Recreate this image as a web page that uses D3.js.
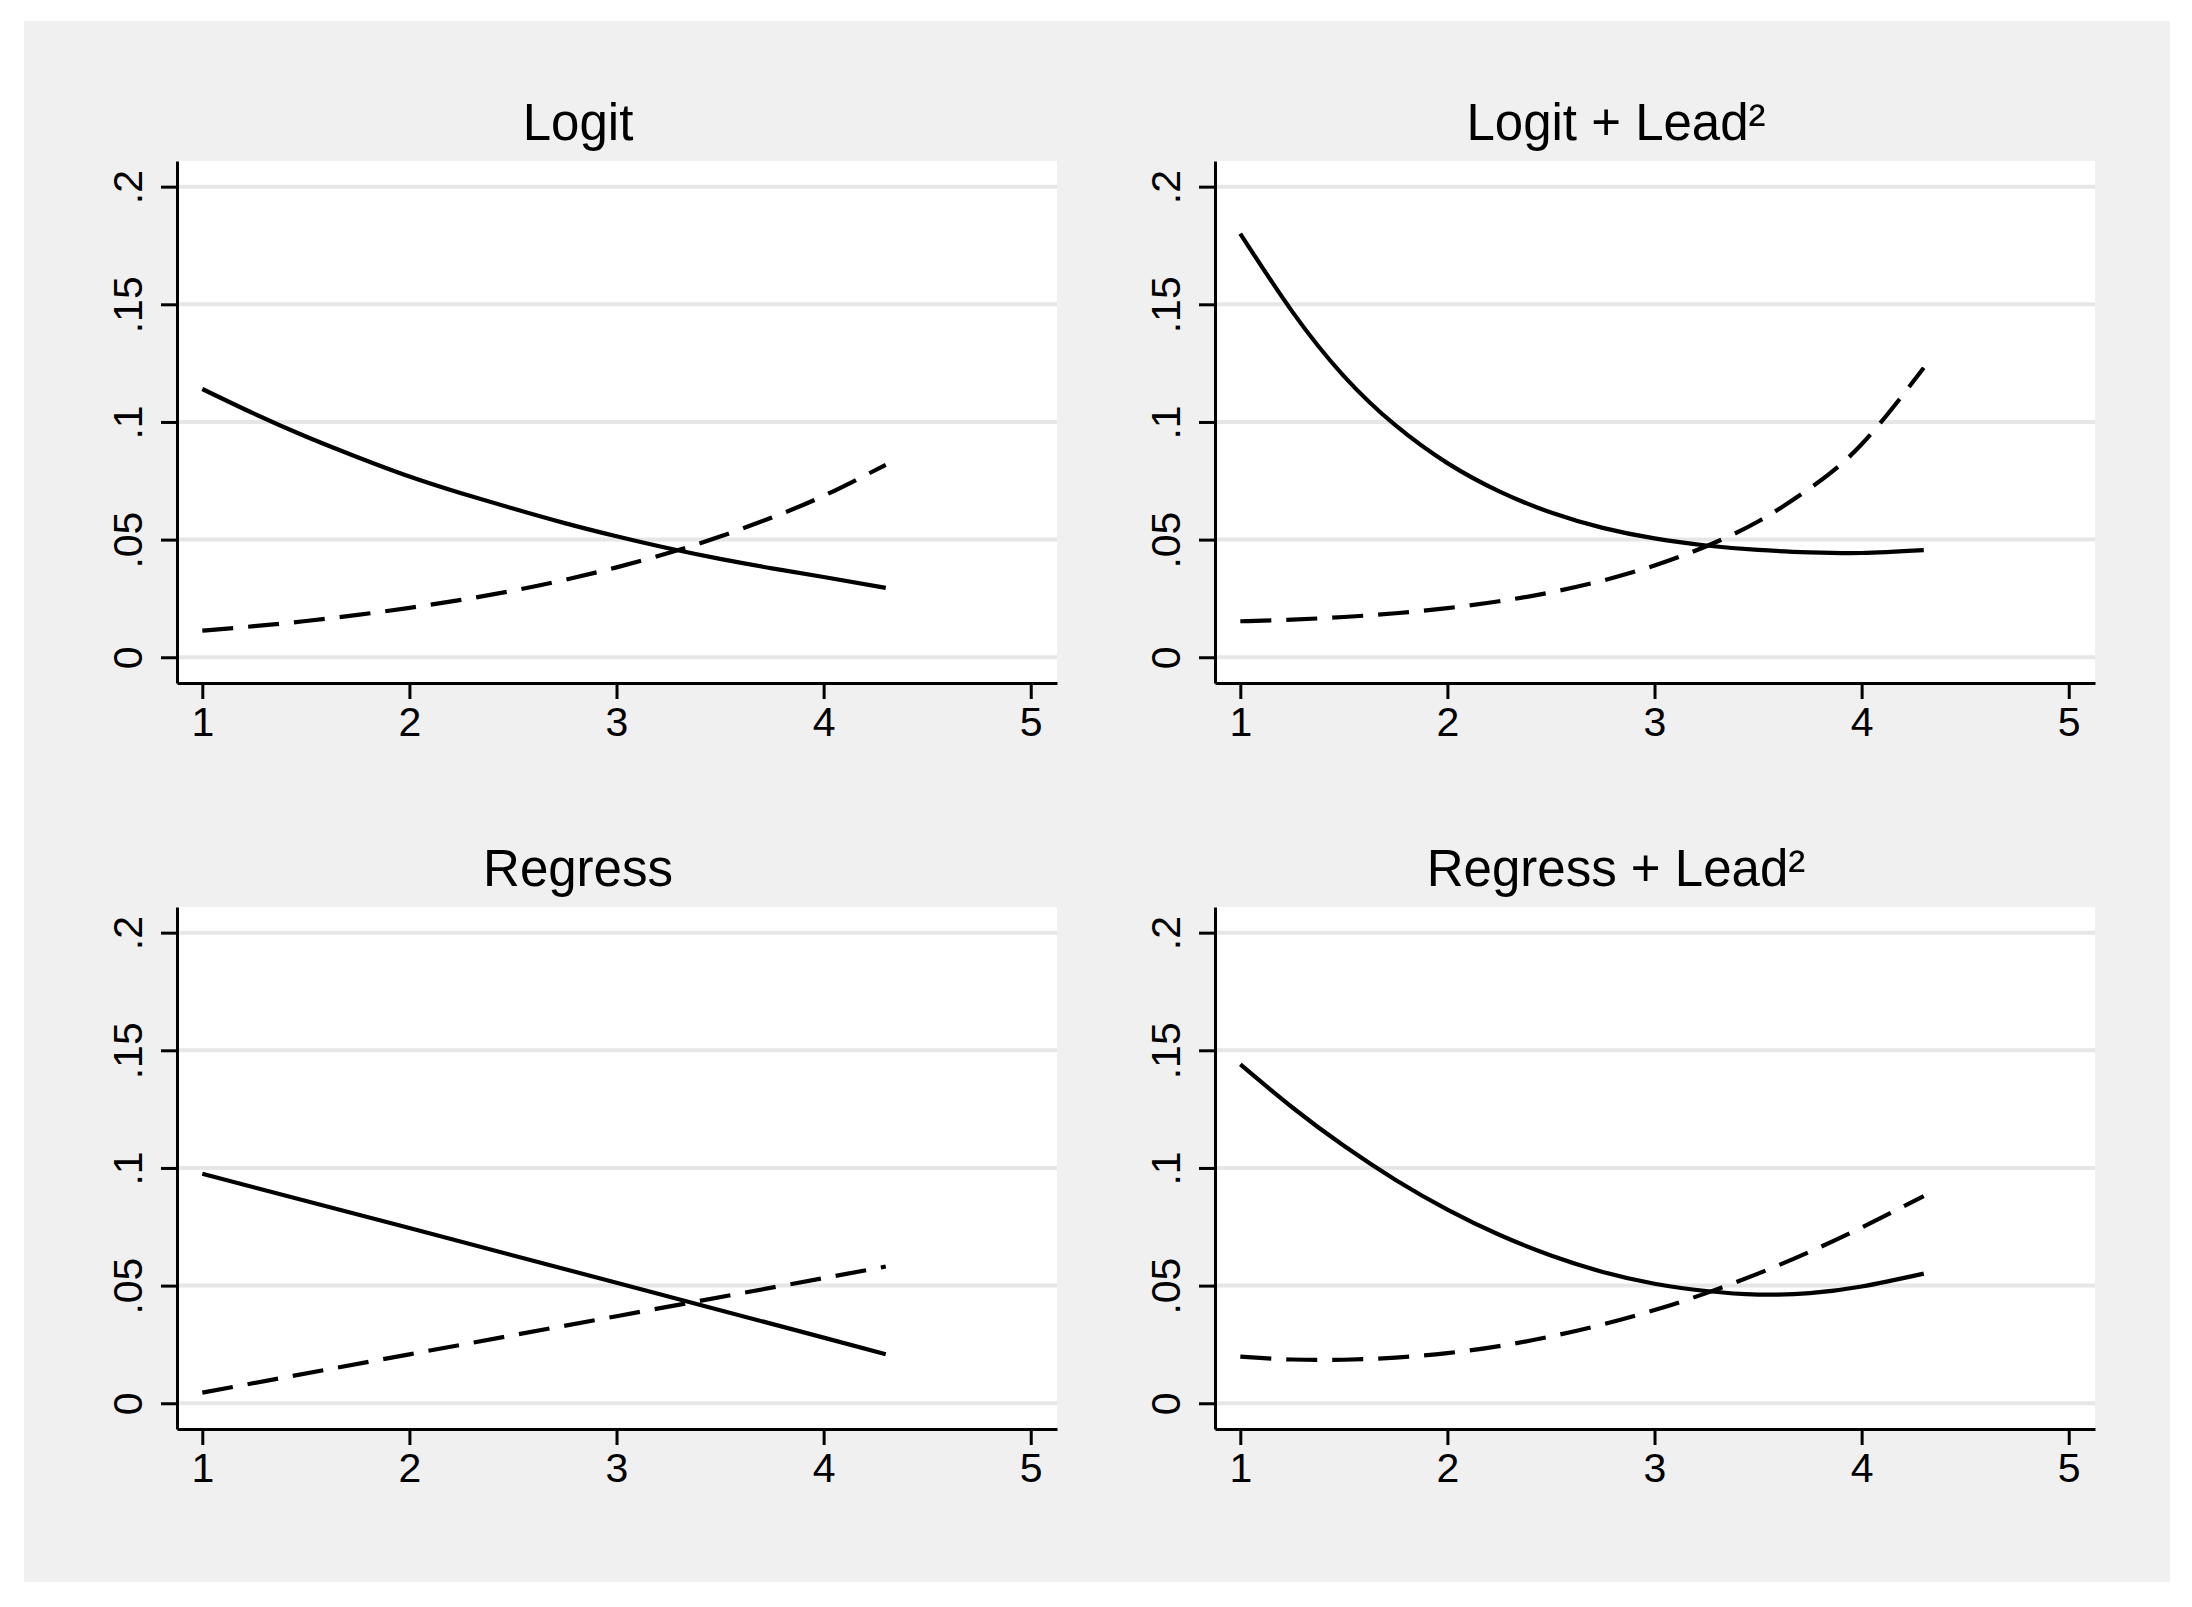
<!DOCTYPE html>
<html>
<head>
<meta charset="utf-8">
<script src="https://cdn.jsdelivr.net/npm/d3@7"></script>
<style>
  html, body { margin: 0; padding: 0; background: #ffffff; }
  svg { display: block; }
  text { font-family: "Liberation Sans", Arial, Helvetica, sans-serif; fill: #000; }
</style>
</head>
<body>
<svg id="chart" width="2192" height="1607"></svg>
<script>
// ---------------- data ----------------
const panelTitles = ["Logit", "Logit + Lead\u00B2", "Regress", "Regress + Lead\u00B2"];

const curveX = [1, 1.25, 1.5, 1.75, 2, 2.25, 2.5, 2.75, 3, 3.25, 3.5, 3.75, 4, 4.3];
const regressX = [1, 2, 3, 4, 4.3];

const logitSolid  = [0.1140, 0.1035, 0.0938, 0.0850, 0.0768, 0.0697, 0.0632, 0.0570, 0.0514, 0.0463, 0.0418, 0.0378, 0.0341, 0.0295];
const logitDashed = [0.0113, 0.0132, 0.0154, 0.0180, 0.0210, 0.0244, 0.0283, 0.0329, 0.0382, 0.0443, 0.0513, 0.0594, 0.0686, 0.0818];

const logitLeadSolid  = [0.180, 0.147, 0.1195, 0.0985, 0.0825, 0.0705, 0.0615, 0.0550, 0.0505, 0.0475, 0.0456, 0.0446, 0.0443, 0.0455];
const logitLeadDashed = [0.0153, 0.0160, 0.0171, 0.0187, 0.0209, 0.0238, 0.0276, 0.0326, 0.0390, 0.0472, 0.0577, 0.0718, 0.0905, 0.1230];

const regressSolid  = [0.0975, 0.0745, 0.0512, 0.0279, 0.0208];
const regressDashed = [0.0045, 0.0208, 0.0370, 0.0532, 0.0581];

const regressLeadSolid  = [0.1440, 0.1258, 0.1094, 0.0949, 0.0823, 0.0716, 0.0628, 0.0558, 0.0508, 0.0477, 0.0462, 0.0468, 0.0496, 0.0551];
const regressLeadDashed = [0.0198, 0.0186, 0.0185, 0.0194, 0.0213, 0.0243, 0.0284, 0.0335, 0.0396, 0.0468, 0.0551, 0.0644, 0.0747, 0.0880];

const yTicks = [0, 0.05, 0.1, 0.15, 0.2];
const yTickLabels = ["0", ".05", ".1", ".15", ".2"];
const xTicks = [1, 2, 3, 4, 5];
const xTickLabels = ["1", "2", "3", "4", "5"];

const panels = [
  { title: panelTitles[0], xs: curveX,   solid: logitSolid,       dashed: logitDashed,       curve: d3.curveNatural },
  { title: panelTitles[1], xs: curveX,   solid: logitLeadSolid,   dashed: logitLeadDashed,   curve: d3.curveNatural },
  { title: panelTitles[2], xs: regressX, solid: regressSolid,     dashed: regressDashed,     curve: d3.curveLinear },
  { title: panelTitles[3], xs: curveX,   solid: regressLeadSolid, dashed: regressLeadDashed, curve: d3.curveNatural }
];

// ---------------- layout ----------------
const svg = d3.select("#chart");
svg.append("rect").attr("x", 24).attr("y", 21).attr("width", 2146).attr("height", 1561).attr("fill", "#f0f0f0");

const colOffset = 1038, rowOffset = 746;
const plotL = 177, plotR = 1057, plotT = 161, plotB = 683;
const xDomain = [0.8778, 5.1268];
const yDomain = [-0.01094, 0.2109];
const fontStack = '"Liberation Sans", Arial, Helvetica, sans-serif';

panels.forEach((p, i) => {
  const col = i % 2, row = Math.floor(i / 2);
  const ox = col * colOffset, oy = row * rowOffset;
  const L = plotL + ox, R = plotR + ox, T = plotT + oy, B = plotB + oy;

  const x = d3.scaleLinear().domain(xDomain).range([L, R]);
  const y = d3.scaleLinear().domain(yDomain).range([B, T]);

  const g = svg.append("g");

  // plot region
  g.append("rect").attr("x", L).attr("y", T).attr("width", R - L).attr("height", B - T).attr("fill", "#ffffff");

  // gridlines
  g.selectAll("line.grid").data(yTicks).enter().append("line")
    .attr("class", "grid")
    .attr("x1", L).attr("x2", R)
    .attr("y1", d => y(d)).attr("y2", d => y(d))
    .attr("stroke", "#e6e6e6").attr("stroke-width", 4);

  // curves
  const line = d3.line().x(d => x(d[0])).y(d => y(d[1])).curve(p.curve);
  const solidPts = p.xs.map((v, k) => [v, p.solid[k]]);
  const dashedPts = p.xs.map((v, k) => [v, p.dashed[k]]);

  g.append("path").datum(solidPts).attr("d", line)
    .attr("fill", "none").attr("stroke", "#000").attr("stroke-width", 4.2);
  g.append("path").datum(dashedPts).attr("d", line)
    .attr("fill", "none").attr("stroke", "#000").attr("stroke-width", 4.2)
    .attr("stroke-dasharray", "31,15");

  // y axis
  const yAxis = d3.axisLeft(y).tickValues(yTicks).tickSize(16).tickSizeOuter(0)
    .tickFormat((d, k) => yTickLabels[k]);
  const ya = g.append("g").attr("transform", `translate(${L},0)`).call(yAxis);
  ya.select(".domain").attr("stroke-width", 3);
  ya.selectAll(".tick line").attr("stroke-width", 3);
  ya.selectAll(".tick text")
    .attr("x", null).attr("y", null).attr("dy", null)
    .attr("text-anchor", "middle")
    .attr("transform", "translate(-35.3,0) rotate(-90)")
    .style("font-family", fontStack)
    .style("font-size", "41px");

  // x axis
  const xAxis = d3.axisBottom(x).tickValues(xTicks).tickSize(16).tickSizeOuter(0).tickPadding(8)
    .tickFormat((d, k) => xTickLabels[k]);
  const xa = g.append("g").attr("transform", `translate(0,${B})`).call(xAxis);
  xa.select(".domain").attr("stroke-width", 3);
  xa.selectAll(".tick line").attr("stroke-width", 3);
  xa.selectAll(".tick text")
    .style("font-family", fontStack)
    .style("font-size", "41px");

  // title
  g.append("text")
    .attr("x", 578 + ox).attr("y", 139.7 + oy)
    .attr("text-anchor", "middle")
    .style("font-family", fontStack)
    .style("font-size", "51px")
    .text(p.title);
});
</script>
</body>
</html>
